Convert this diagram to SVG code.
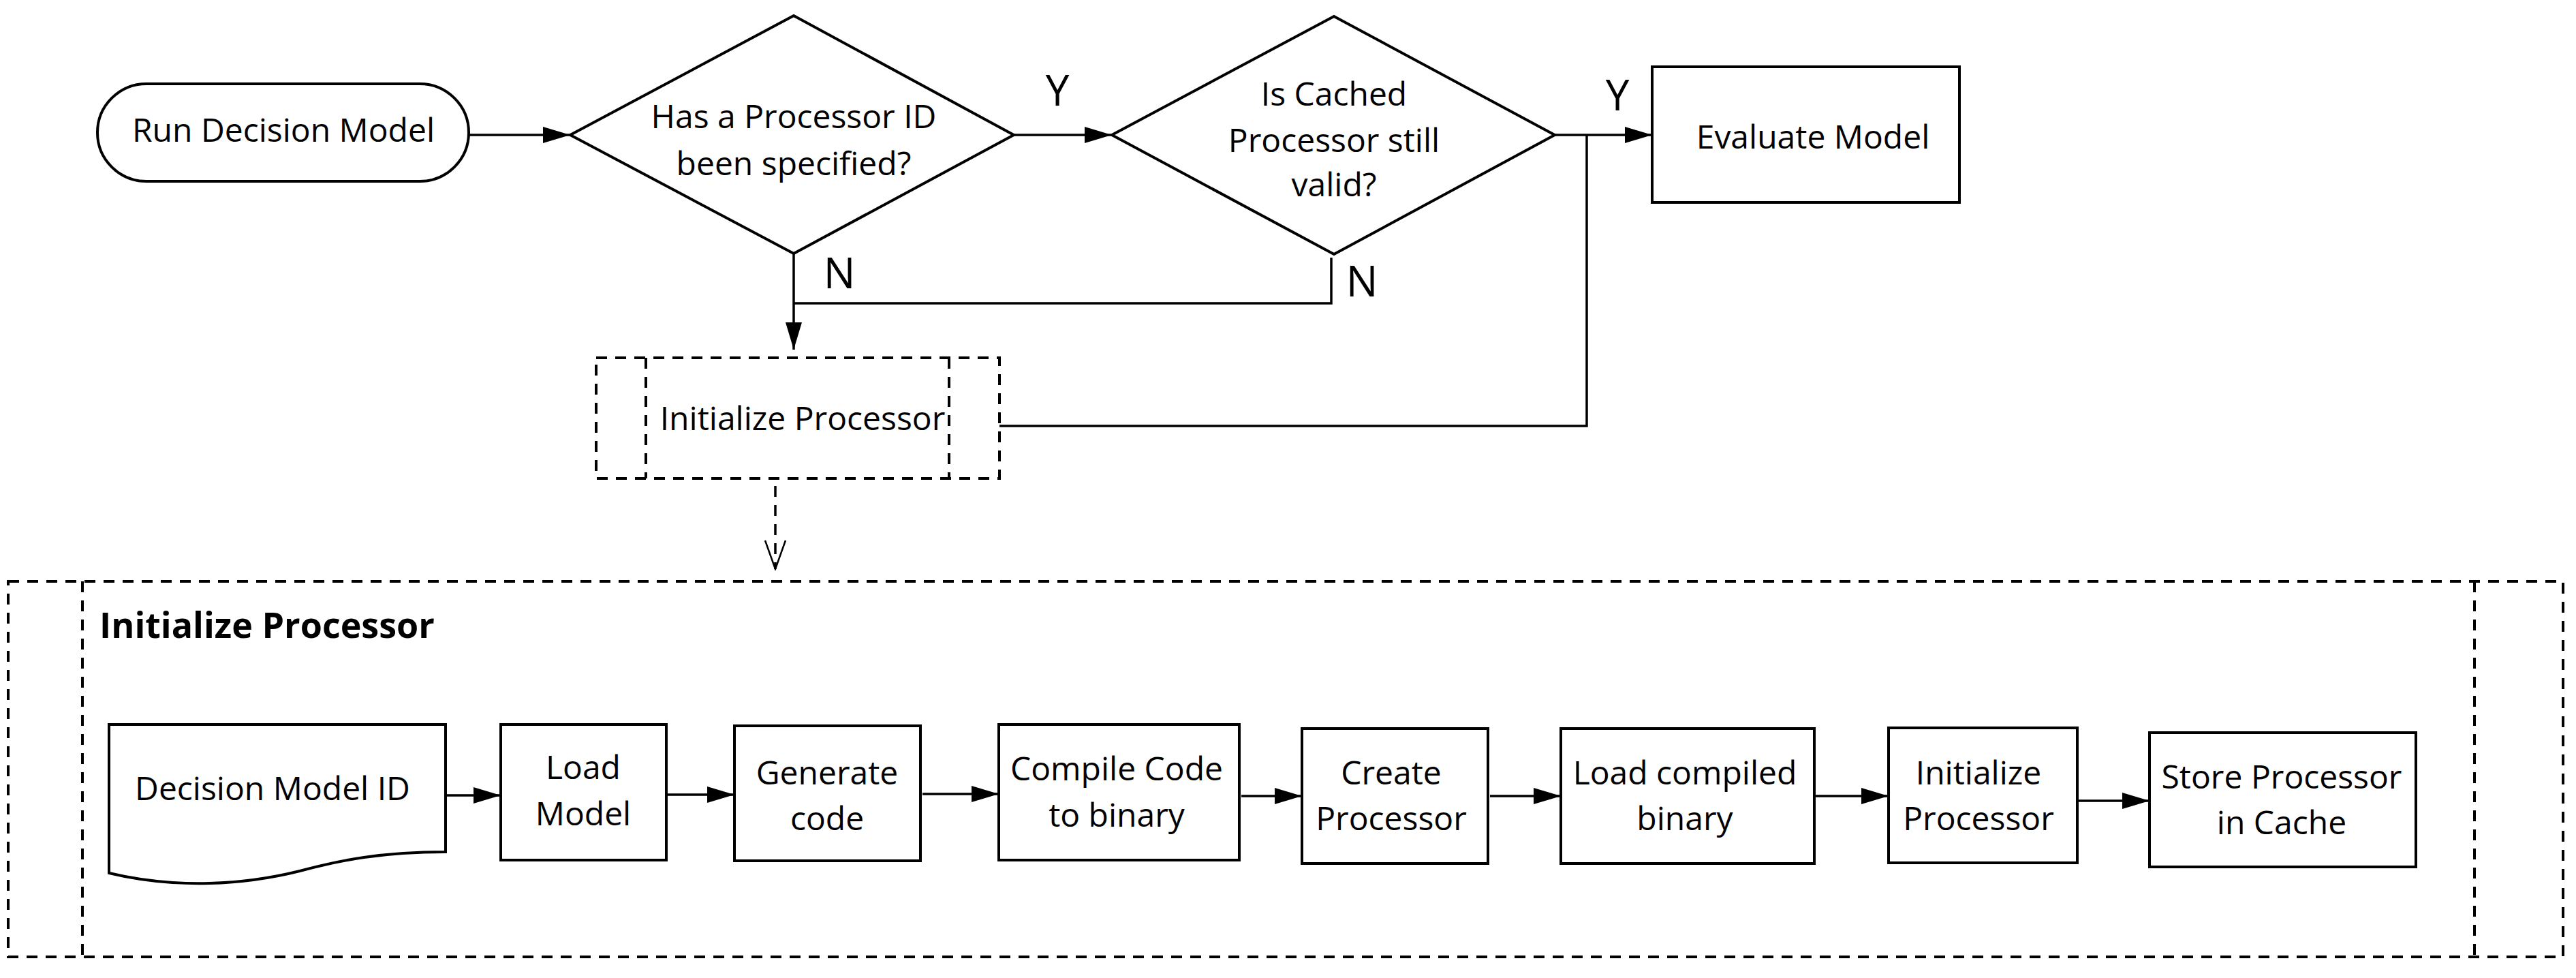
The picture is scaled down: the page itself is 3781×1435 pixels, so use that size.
<svg xmlns="http://www.w3.org/2000/svg" width="3781" height="1435" viewBox="0 0 3781 1435">
<style>
  .shape { fill: #ffffff; stroke: #000000; stroke-width: 4; }
  .dash { fill: none; stroke: #000000; stroke-width: 4; stroke-dasharray: 16 12; }
  .conn { fill: none; stroke: #000000; stroke-width: 3.5; }
  .conn-dash { fill: none; stroke: #000000; stroke-width: 3.5; stroke-dasharray: 16 12; }
  .lbl { font-family: "Open Sans", "Noto Sans", "Liberation Sans", sans-serif; font-size: 48px; fill: #000000; text-anchor: middle; }
  .yn { font-family: "Open Sans", "Noto Sans", "Liberation Sans", sans-serif; font-size: 62px; fill: #000000; text-anchor: middle; }
  .title { font-family: "Open Sans", "Noto Sans", "Liberation Sans", sans-serif; font-size: 52px; font-weight: bold; fill: #000000; }
</style>
<defs>
  <marker id="arrow" markerUnits="userSpaceOnUse" markerWidth="40" markerHeight="24" refX="40" refY="12" orient="auto">
    <path d="M0,0 L40,12 L0,24 Z" fill="#000000" stroke="none"/>
  </marker>
  <marker id="open-arrow" markerUnits="userSpaceOnUse" markerWidth="46" markerHeight="36" refX="44" refY="18" orient="auto">
    <path d="M2,3 L44,18 L2,33" fill="none" stroke="#000000" stroke-width="2.5" stroke-dasharray="none"/>
  </marker>
</defs>

<!-- Subprocess container -->
<g id="container-initialize-processor">
  <rect class="dash" x="12" y="853" width="3750" height="551"/>
  <line class="dash" x1="121" y1="853" x2="121" y2="1404"/>
  <line class="dash" x1="3632" y1="853" x2="3632" y2="1404"/>
  <text class="title" x="146" y="936">Initialize Processor</text>
</g>

<g id="node-run-decision-model">
  <rect class="shape" x="143" y="123" width="545" height="143" rx="72" ry="72"/>
  <text class="lbl" x="416" y="208">Run Decision Model</text>
</g>

<g id="node-processor-id-specified">
  <polygon class="shape" points="837,198 1165,23 1488,198 1165,372"/>
  <text class="lbl" x="1165" y="188">Has a Processor ID</text>
  <text class="lbl" x="1165" y="257">been specified?</text>
</g>

<g id="node-cached-valid">
  <polygon class="shape" points="1632,198 1958,24 2282,198 1958,373"/>
  <text class="lbl" x="1958" y="155">Is Cached</text>
  <text class="lbl" x="1958" y="223">Processor still</text>
  <text class="lbl" x="1958" y="288">valid?</text>
</g>

<g id="node-evaluate-model">
  <rect class="shape" x="2425" y="98" width="451" height="199"/>
  <text class="lbl" x="2661" y="218">Evaluate Model</text>
</g>

<g id="node-initialize-processor-sub">
  <rect class="dash" x="875" y="525" width="592" height="177"/>
  <line class="dash" x1="948" y1="525" x2="948" y2="702"/>
  <line class="dash" x1="1393" y1="525" x2="1393" y2="702"/>
  <text class="lbl" x="1178" y="631">Initialize Processor</text>
</g>

<g id="node-decision-model-id">
  <path class="shape" d="M160,1063 H654 V1250 C560,1250 500,1262 440,1278 C360,1298 260,1305 160,1281 Z"/>
  <text class="lbl" x="400" y="1174">Decision Model ID</text>
</g>

<g id="node-load-model">
  <rect class="shape" x="735" y="1063" width="243" height="199"/>
  <text class="lbl" x="856" y="1143">Load</text>
  <text class="lbl" x="856" y="1211">Model</text>
</g>

<g id="node-generate-code">
  <rect class="shape" x="1078" y="1065" width="273" height="198"/>
  <text class="lbl" x="1214" y="1151">Generate</text>
  <text class="lbl" x="1214" y="1218">code</text>
</g>

<g id="node-compile-code">
  <rect class="shape" x="1466" y="1063" width="353" height="199"/>
  <text class="lbl" x="1639" y="1145">Compile Code</text>
  <text class="lbl" x="1639" y="1213">to binary</text>
</g>

<g id="node-create-processor">
  <rect class="shape" x="1911" y="1069" width="273" height="198"/>
  <text class="lbl" x="2042" y="1151">Create</text>
  <text class="lbl" x="2042" y="1218">Processor</text>
</g>

<g id="node-load-compiled-binary">
  <rect class="shape" x="2291" y="1069" width="372" height="198"/>
  <text class="lbl" x="2473" y="1151">Load compiled</text>
  <text class="lbl" x="2473" y="1218">binary</text>
</g>

<g id="node-initialize-processor">
  <rect class="shape" x="2772" y="1068" width="277" height="198"/>
  <text class="lbl" x="2904" y="1151">Initialize</text>
  <text class="lbl" x="2904" y="1218">Processor</text>
</g>

<g id="node-store-processor">
  <rect class="shape" x="3155" y="1075" width="391" height="197"/>
  <text class="lbl" x="3349" y="1157">Store Processor</text>
  <text class="lbl" x="3349" y="1224">in Cache</text>
</g>

<g id="connectors">
  <line class="conn" x1="688" y1="198" x2="837" y2="198" marker-end="url(#arrow)"/>
  <line class="conn" x1="1488" y1="198" x2="1632" y2="198" marker-end="url(#arrow)"/>
  <line class="conn" x1="2282" y1="198" x2="2425" y2="198" marker-end="url(#arrow)"/>
  <polyline class="conn" points="1165,372 1165,513" marker-end="url(#arrow)"/>
  <polyline class="conn" points="1954,378 1954,445 1165,445"/>
  <polyline class="conn" points="1467,625 2329,625 2329,198"/>
  <line class="conn-dash" x1="1138" y1="713" x2="1138" y2="835" marker-end="url(#open-arrow)"/>
  <line class="conn" x1="654" y1="1167" x2="735" y2="1167" marker-end="url(#arrow)"/>
  <line class="conn" x1="978" y1="1166" x2="1078" y2="1166" marker-end="url(#arrow)"/>
  <line class="conn" x1="1354" y1="1165" x2="1466" y2="1165" marker-end="url(#arrow)"/>
  <line class="conn" x1="1822" y1="1168" x2="1911" y2="1168" marker-end="url(#arrow)"/>
  <line class="conn" x1="2187" y1="1168" x2="2291" y2="1168" marker-end="url(#arrow)"/>
  <line class="conn" x1="2664" y1="1168" x2="2772" y2="1168" marker-end="url(#arrow)"/>
  <line class="conn" x1="3049" y1="1175" x2="3155" y2="1175" marker-end="url(#arrow)"/>
  <text class="yn" x="1552" y="155">Y</text>
  <text class="yn" x="2374" y="162">Y</text>
  <text class="yn" x="1232" y="423">N</text>
  <text class="yn" x="1999" y="435">N</text>
</g>
</svg>
